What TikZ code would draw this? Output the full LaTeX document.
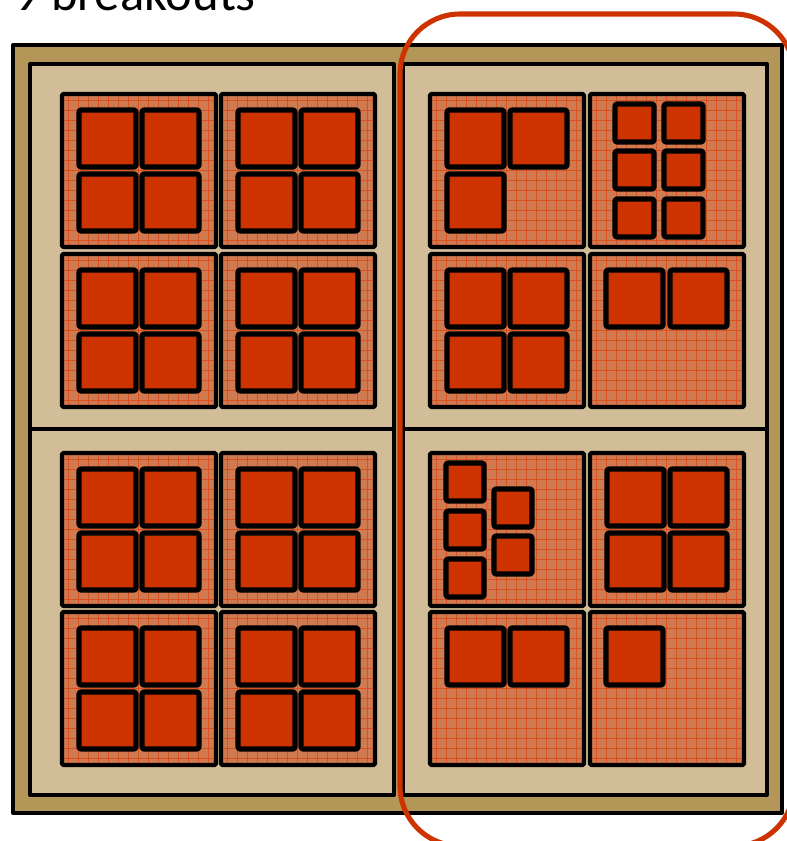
\documentclass[tikz,border=0pt]{standalone}
\usepackage{fontspec}
\newfontfamily\calib{Carlito}
\definecolor{boardtan}{HTML}{B39658}
\definecolor{quadtan}{HTML}{D1BD98}
\definecolor{tilefill}{HTML}{D07A52}
\definecolor{gridred}{HTML}{DC4A16}
\definecolor{diered}{HTML}{CC3300}

\begin{document}
\begin{tikzpicture}[x=0.025cm,y=-0.025cm,line join=round,
  board/.style={draw=black,line width=2.9pt,fill=boardtan},
  quad/.style={draw=black,line width=2.9pt,fill=quadtan},
  tilebox/.style={draw=black,line width=3.1pt,rounded corners=1pt},
  gridln/.style={draw=gridred,line width=.45pt,opacity=.8},
  die/.style={draw=black,line width=3.7pt,fill=diered,rounded corners=1.5pt},
  callout/.style={draw=diered,line width=3.6pt,rounded corners=1.5cm}]
\useasboundingbox (0,0) rectangle (787,841);
\node[anchor=base east,inner sep=0pt,font=\calib\fontsize{36}{40}\selectfont] (title) at (256,11) {9 breakouts};
% board and quadrants
\draw[board] (13,45) rectangle (782,813);
\foreach \qx/\qy/\qw in {30/64/364,30/429/364,403/64/364,403/429/364}{\draw[quad] (\qx,\qy) rectangle ++(\qw,366);}
% tiles with grid
\foreach \tx/\ty in {62/94,221/94,62/254,221/254,62/453,221/453,62/612,221/612,430/94,590/94,430/254,590/254,430/453,590/453,430/612,590/612}{
\begin{scope}\clip (\tx,\ty) rectangle ++(154,153);\fill[tilefill] (\tx,\ty) rectangle ++(154,153);
\foreach \g in {6,16,...,156}{\draw[gridln] (\tx+\g,\ty)--++(0,153);\draw[gridln] (\tx,\ty+\g)--++(154,0);}\end{scope}
\draw[tilebox] (\tx,\ty) rectangle ++(154,153);}
% dies, full tiles
\foreach \tx/\ty in {62/94,221/94,62/254,221/254,62/453,221/453,62/612,221/612,430/254,590/453}{\foreach \dx/\dy in {17/16,80/16,17/80,80/80}{\draw[die] (\tx+\dx,\ty+\dy) rectangle ++(57,57);}}
% dies, partly filled tiles
\foreach \tx/\ty/\dx/\dy in {430/94/17/16,430/94/80/16,430/94/17/80,590/254/16/16,590/254/80/16,430/612/17/16,430/612/80/16,590/612/16/16}{\draw[die] (\tx+\dx,\ty+\dy) rectangle ++(57,57);}
\foreach \dx/\dy in {25/10,74/10,25/57,74/57,25/105,74/105}{\draw[die] (590+\dx,94+\dy) rectangle ++(39,38);}
\foreach \dx/\dy in {16/10,16/58,16/106,64/36,64/83}{\draw[die] (430+\dx,453+\dy) rectangle ++(38,38);}
% highlight
\draw[callout] (400,14) rectangle (794,846);
\end{tikzpicture}
\end{document}
